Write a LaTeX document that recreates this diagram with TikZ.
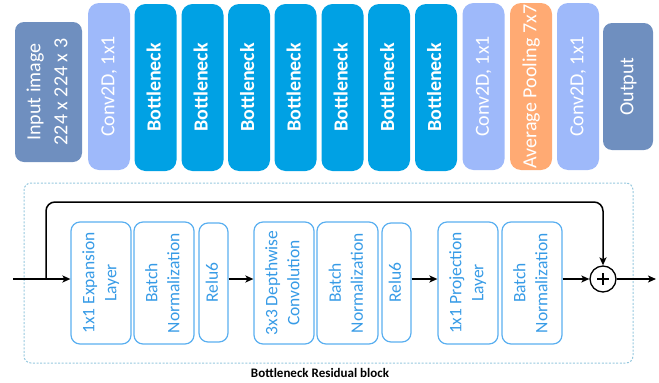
\documentclass[tikz,border=0pt]{standalone}
\usepackage{fontspec}
\setmainfont{Carlito}
\usepackage{graphicx}
\usetikzlibrary{arrows.meta,calc}
\definecolor{inputc}{RGB}{111,143,191}
\definecolor{convc}{RGB}{158,185,250}
\definecolor{bottc}{RGB}{0,161,228}
\definecolor{poolc}{RGB}{255,170,115}
\definecolor{layerline}{RGB}{90,175,240}
\definecolor{layertext}{RGB}{55,155,230}
\definecolor{dashc}{RGB}{150,200,222}
\newcommand{\vlab}[1]{\rotatebox{90}{\begin{tabular}{@{}c@{}}#1\end{tabular}}}
\begin{document}
\begin{tikzpicture}[x=1pt,y=-1pt,
  topbox/.style={rounded corners=11pt, inner sep=0pt, text=white,
    font=\fontsize{20}{27}\selectfont},
  tall/.style={topbox, minimum width=42pt, minimum height=167pt},
  convbox/.style={tall, fill=convc},
  bottbox/.style={tall, fill=bottc, font=\fontsize{20}{25}\selectfont\bfseries},
  poolbox/.style={tall, fill=poolc},
  endbox/.style={topbox, fill=inputc, rounded corners=9pt},
  layerbox/.style={draw=layerline, line width=1.2pt, rounded corners=9pt,
    inner sep=0pt, text=layertext, minimum width=60pt, minimum height=122pt,
    font=\fontsize{17.5}{22}\selectfont},
  relubox/.style={layerbox, minimum width=29pt, minimum height=119pt},
  arr/.style={line width=1.5pt, -{Stealth[length=8pt,width=7pt,inset=2pt]}},
  plain/.style={line width=1.5pt}
]
\useasboundingbox (0,0) rectangle (659,383);

% top row
\node[endbox, minimum width=67pt, minimum height=140pt] (inp) at (48.5,92) {\vlab{Input image\\224 x 224 x 3}};
\node[convbox] (c1) at (109,86.5) {\vlab{Conv2D, 1x1}};
\node[bottbox] (b1) at (155.5,87.5) {\vlab{Bottleneck}};
\node[bottbox] (b2) at (202.5,87.5) {\vlab{Bottleneck}};
\node[bottbox] (b3) at (249,87.5) {\vlab{Bottleneck}};
\node[bottbox] (b4) at (295.5,87.5) {\vlab{Bottleneck}};
\node[bottbox] (b5) at (342.5,87.5) {\vlab{Bottleneck}};
\node[bottbox] (b6) at (389,87.5) {\vlab{Bottleneck}};
\node[bottbox] (b7) at (436,87.5) {\vlab{Bottleneck}};
\node[convbox] (c2) at (483.5,86.5) {\vlab{Conv2D, 1x1}};
\node[poolbox] (pool) at (531,86.5) {\vlab{Average Pooling 7x7}};
\node[convbox] (c3) at (578,86.5) {\vlab{Conv2D, 1x1}};
\node[endbox, minimum width=50pt, minimum height=127pt] (outp) at (628,86.5) {\vlab{Output}};

% residual block frame
\node[draw=dashc, line width=1pt, dash pattern=on 2pt off 1.6pt, rounded corners=7pt,
  minimum width=609pt, minimum height=180pt, inner sep=0pt] (frame) at (328.5,273) {};
\node[font=\fontsize{13}{15}\selectfont\bfseries] (cap) at (320,373) {Bottleneck Residual block};

% layers
\node[layerbox] (exp) at (101,283) {\vlab{1x1 Expansion\\Layer}};
\node[layerbox] (bn1) at (164,283) {\vlab{Batch\\Normalization}};
\node[relubox] (r1) at (213.5,282.5) {\vlab{Relu6}};
\node[layerbox] (dw) at (284,283) {\vlab{3x3 Depthwise\\Convolution}};
\node[layerbox, minimum width=61pt] (bn2) at (347.5,283) {\vlab{Batch\\Normalization}};
\node[relubox] (r2) at (396.5,282.5) {\vlab{Relu6}};
\node[layerbox] (proj) at (468,283) {\vlab{1x1 Projection\\Layer}};
\node[layerbox] (bn3) at (532,283) {\vlab{Batch\\Normalization}};
\node[circle, draw, line width=1.3pt, minimum size=26pt, inner sep=0pt] (plus) at (603,279) {};
\draw[line width=1.8pt] ($(plus.center)+(-6,0)$) -- ($(plus.center)+(6,0)$);
\draw[line width=1.8pt] ($(plus.center)+(0,-6)$) -- ($(plus.center)+(0,6)$);

% connectors
\coordinate (in) at (13,279);
\coordinate (split) at (46,279);
\coordinate (skiptop) at (46,202);
\coordinate (out) at (656,279);
\draw[arr] (in) -- (exp.west |- in);
\draw[arr, rounded corners=9pt] (split) -- (skiptop) -| (plus.north);
\draw[arr] (r1.east |- plus.center) -- (dw.west |- plus.center);
\draw[arr] (r2.east |- plus.center) -- (proj.west |- plus.center);
\draw[arr] (bn3.east |- plus.center) -- (plus.west);
\draw[arr] (plus.east) -- (out);
\end{tikzpicture}
\end{document}
